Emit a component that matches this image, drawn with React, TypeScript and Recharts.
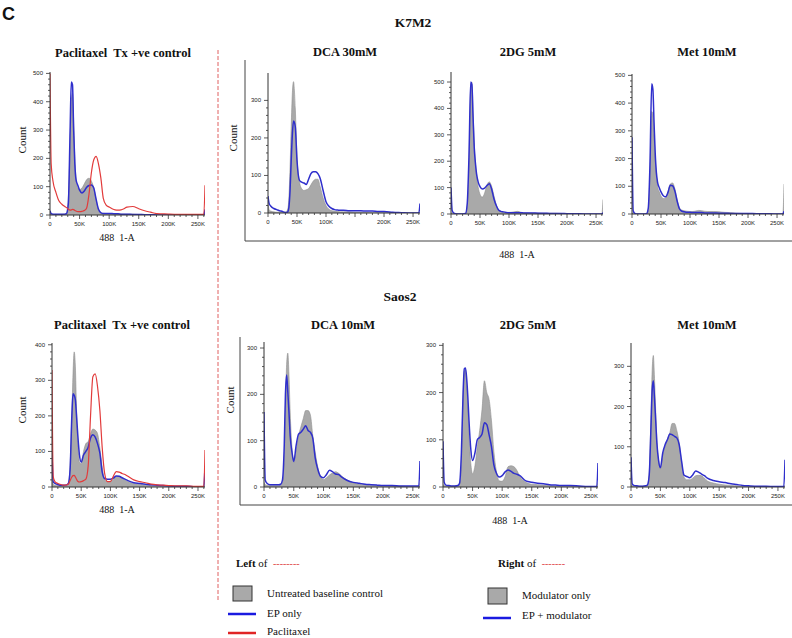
import React from "react";
import { ComposedChart, Area, Line, XAxis, YAxis } from "recharts";

// channel bins, in K (488 1-A)
const BINS = [0, 2, 5, 10, 15, 20, 25, 28, 31, 34, 36, 38, 40, 42, 44, 47, 50, 54, 58, 62, 66, 70, 74, 78, 82, 86, 90, 95, 100, 105, 110, 115, 120, 125, 130, 140, 150, 160, 170, 180, 190, 200, 215, 230, 245, 255, 260, 262];

// K7M2
const k7PacGray = [5, 3, 2, 2, 2, 2, 3, 8, 60, 250, 400, 430, 330, 200, 130, 95, 90, 95, 110, 125, 130, 120, 95, 55, 18, 8, 6, 5, 5, 4, 4, 4, 3, 3, 3, 3, 2, 2, 1, 1, 1, 0, 0, 0, 0, 0, 0, 10];
const k7PacBlue = [15, 5, 3, 3, 3, 3, 3, 5, 40, 300, 470, 460, 300, 180, 125, 105, 88, 78, 85, 98, 104, 106, 95, 55, 20, 8, 5, 5, 5, 5, 4, 4, 3, 3, 3, 2, 2, 1, 1, 0, 0, 0, 0, 0, 0, 0, 0, 20];
const k7PacRed = [500, 180, 120, 80, 50, 38, 30, 26, 20, 17, 18, 20, 19, 16, 14, 12, 12, 13, 16, 25, 75, 150, 195, 207, 180, 130, 60, 35, 28, 22, 18, 17, 18, 22, 28, 30, 22, 15, 10, 5, 4, 3, 2, 2, 2, 2, 2, 105];

const k7DcaGray = [30, 8, 5, 3, 2, 2, 2, 2, 3, 10, 40, 120, 230, 320, 350, 280, 150, 85, 65, 60, 62, 65, 75, 85, 90, 90, 70, 40, 20, 10, 6, 5, 4, 3, 3, 3, 2, 2, 2, 1, 1, 1, 0, 0, 0, 0, 0, 0];
const k7DcaBlue = [45, 25, 18, 12, 9, 6, 4, 2, 1, 3, 15, 60, 140, 210, 245, 230, 140, 88, 82, 80, 76, 90, 105, 110, 110, 105, 92, 60, 30, 18, 12, 9, 8, 7, 7, 6, 6, 6, 5, 5, 4, 4, 2, 1, 0, 0, 0, 25];

const k7DgGray = [5, 2, 1, 1, 1, 1, 1, 30, 190, 480, 500, 390, 270, 195, 145, 100, 75, 64, 80, 110, 122, 105, 70, 35, 15, 10, 8, 6, 6, 7, 9, 10, 7, 5, 5, 4, 4, 3, 3, 3, 2, 1, 1, 0, 0, 0, 0, 55];
const k7DgBlue = [100, 13, 3, 0, 0, 0, 2, 40, 220, 500, 490, 370, 255, 195, 153, 120, 104, 95, 98, 108, 115, 95, 58, 32, 15, 10, 8, 6, 5, 5, 5, 5, 5, 4, 4, 4, 3, 3, 2, 2, 2, 1, 1, 0, 0, 0, 0, 5];

const k7MetGray = [5, 1, 0, 0, 0, 0, 1, 15, 150, 370, 360, 280, 200, 140, 100, 80, 65, 56, 58, 80, 108, 112, 90, 50, 22, 14, 12, 10, 9, 9, 11, 13, 12, 10, 9, 9, 8, 6, 5, 3, 2, 2, 1, 1, 0, 0, 0, 108];
const k7MetBlue = [277, 12, 2, 0, 0, 0, 1, 20, 180, 470, 450, 330, 220, 150, 115, 95, 80, 66, 62, 78, 104, 102, 82, 45, 18, 10, 8, 6, 6, 5, 5, 5, 5, 4, 4, 4, 3, 3, 2, 2, 2, 2, 1, 1, 0, 0, 0, 10];

// Saos2
const saPacGray = [20, 8, 5, 4, 3, 3, 4, 10, 60, 200, 320, 380, 340, 220, 130, 70, 65, 100, 122, 128, 150, 163, 160, 150, 110, 55, 22, 15, 16, 22, 30, 30, 25, 20, 15, 10, 8, 5, 4, 3, 2, 2, 1, 1, 1, 1, 1, 20];
const saPacBlue = [100, 15, 10, 7, 5, 5, 6, 10, 50, 200, 262, 258, 245, 200, 150, 90, 70, 90, 100, 112, 138, 147, 140, 122, 95, 42, 24, 22, 22, 25, 31, 30, 26, 22, 18, 12, 10, 8, 6, 5, 4, 3, 2, 2, 1, 1, 1, 60];
const saPacRed = [329, 30, 15, 10, 7, 5, 6, 8, 18, 28, 32, 33, 28, 22, 16, 14, 15, 18, 22, 60, 200, 310, 318, 282, 215, 110, 40, 15, 15, 30, 43, 42, 38, 35, 30, 20, 15, 12, 8, 6, 5, 4, 3, 3, 2, 2, 2, 104];

const saDcaGray = [10, 5, 4, 3, 3, 3, 3, 4, 10, 60, 170, 265, 289, 240, 160, 85, 52, 80, 110, 130, 148, 165, 165, 155, 110, 75, 45, 22, 16, 20, 26, 30, 33, 30, 24, 15, 9, 6, 5, 4, 3, 3, 2, 2, 1, 1, 1, 10];
const saDcaBlue = [162, 15, 8, 5, 5, 5, 5, 6, 15, 90, 200, 242, 205, 160, 110, 75, 55, 90, 114, 118, 125, 132, 122, 118, 105, 63, 40, 23, 20, 27, 36, 33, 28, 27, 22, 14, 10, 8, 6, 5, 4, 3, 3, 2, 2, 2, 2, 56];

const saDgGray = [5, 3, 2, 2, 2, 2, 3, 6, 50, 190, 245, 248, 220, 170, 110, 50, 28, 45, 85, 120, 165, 225, 200, 185, 140, 75, 35, 13, 12, 22, 43, 45, 43, 35, 22, 10, 6, 5, 4, 3, 2, 2, 1, 1, 1, 1, 1, 10];
const saDgBlue = [97, 10, 4, 3, 2, 2, 3, 8, 70, 200, 250, 252, 230, 190, 139, 80, 56, 72, 100, 105, 112, 136, 132, 110, 85, 47, 30, 21, 24, 32, 36, 33, 29, 27, 24, 13, 10, 8, 7, 5, 4, 3, 3, 2, 1, 1, 1, 51];

const saMetGray = [5, 3, 2, 2, 2, 2, 3, 5, 35, 180, 290, 327, 270, 190, 120, 65, 45, 80, 100, 118, 135, 158, 158, 140, 110, 60, 25, 18, 18, 22, 28, 29, 28, 22, 15, 10, 7, 5, 4, 3, 2, 2, 1, 1, 1, 1, 1, 5];
const saMetBlue = [74, 8, 4, 3, 2, 2, 3, 5, 30, 150, 240, 264, 220, 166, 110, 65, 48, 85, 105, 118, 132, 130, 126, 122, 105, 65, 30, 26, 23, 30, 40, 37, 32, 28, 22, 16, 13, 11, 8, 6, 4, 3, 2, 2, 1, 1, 1, 68];

const Y500 = [0, 100, 200, 300, 400, 500];
const Y400 = [0, 100, 200, 300, 400];
const Y300 = [0, 100, 200, 300];

const GRAY = "#a9a9a9";
const GRAY_EDGE = "#8e8e8e";
const BLUE = "#2f2fcc";
const RED = "#e23b3b";
const FRAME = "#333";
const SERIF = "'Liberation Serif', 'DejaVu Serif', serif";
const SANS = "'Liberation Sans', Arial, sans-serif";

const YW = 30;
const XH = 22;

function XTick(props: any) {
  const { x, y, payload, skip } = props;
  const v = payload.value;
  const major = v % 50 === 0;
  const show = major && !(skip && v === 150);
  return (
    <g>
      <line x1={x} x2={x} y1={y} y2={y + (major ? 4 : 2)} stroke={FRAME} strokeWidth={0.8} />
      {show && (
        <text x={x} y={y + 11} textAnchor="middle" fontSize={6} fontFamily={SANS} fill="#222">
          {v === 0 ? "0" : `${v}K`}
        </text>
      )}
    </g>
  );
}

function YTick(props: any) {
  const { x, y, payload } = props;
  const v = payload.value;
  const major = v % 100 === 0;
  return (
    <g>
      <line x1={x} x2={x - (major ? 4 : 2)} y1={y} y2={y} stroke={FRAME} strokeWidth={0.8} />
      {major && (
        <text x={x - 7} y={y + 2} textAnchor="end" fontSize={6} fontFamily={SANS} fill="#222">
          {v}
        </text>
      )}
    </g>
  );
}

type HistoProps = {
  x: number;
  y: number;
  w: number;
  h: number;
  yMax: number;
  yTicks: number[];
  gray: number[];
  blue: number[];
  red?: number[];
  skip150?: boolean;
};

function Histo({ x, y, w, h, yMax, yTicks, gray, blue, red, skip150 }: HistoProps) {
  const data = BINS.map((b, i) => ({
    b,
    gray: gray[i],
    blue: blue[i],
    red: red ? red[i] : null,
  }));
  const xTicks: number[] = [];
  for (let v = 0; v <= 260; v += 10) xTicks.push(v);
  const top = yTicks[yTicks.length - 1];
  const yMinor: number[] = [];
  for (let v = 0; v <= top; v += 20) yMinor.push(v);
  return (
    <div style={{ position: "absolute", left: x - YW, top: y - 2 }}>
      <ComposedChart
        width={w + YW + 2}
        height={h + XH + 2}
        data={data}
        margin={{ top: 2, right: 2, bottom: 0, left: 0 }}
      >
        <XAxis
          xAxisId="b"
          dataKey="b"
          type="number"
          domain={[0, 262]}
          ticks={xTicks}
          interval={0}
          height={XH}
          tickLine={false}
          tickSize={0}
          tickMargin={0}
          axisLine={{ stroke: FRAME }}
          tick={(p: any) => <XTick {...p} skip={skip150} />}
          allowDataOverflow
        />
        <XAxis
          xAxisId="t"
          dataKey="b"
          type="number"
          orientation="top"
          domain={[0, 262]}
          height={0}
          tick={false}
          tickLine={false}
          axisLine={{ stroke: FRAME }}
          allowDataOverflow
        />
        <YAxis
          yAxisId="l"
          type="number"
          domain={[0, yMax]}
          ticks={yMinor}
          interval={0}
          width={YW}
          tickLine={false}
          tickSize={0}
          tickMargin={0}
          axisLine={{ stroke: FRAME }}
          tick={(p: any) => <YTick {...p} />}
          allowDataOverflow
        />
        <YAxis
          yAxisId="r"
          type="number"
          orientation="right"
          domain={[0, yMax]}
          width={0}
          tick={false}
          tickLine={false}
          axisLine={{ stroke: FRAME }}
          allowDataOverflow
        />
        <Area
          xAxisId="b"
          yAxisId="l"
          dataKey="gray"
          type="monotone"
          fill={GRAY}
          fillOpacity={1}
          stroke={GRAY_EDGE}
          strokeWidth={0.6}
          isAnimationActive={false}
        />
        <Line
          xAxisId="b"
          yAxisId="l"
          dataKey="blue"
          type="monotone"
          stroke={BLUE}
          strokeWidth={1.5}
          dot={false}
          isAnimationActive={false}
        />
        {red && (
          <Line
            xAxisId="b"
            yAxisId="l"
            dataKey="red"
            type="monotone"
            stroke={RED}
            strokeWidth={1.2}
            dot={false}
            isAnimationActive={false}
          />
        )}
      </ComposedChart>
    </div>
  );
}

function Txt({
  x,
  y,
  children,
  size = 11,
  bold = false,
  rotate = false,
  family = SERIF,
  anchor = "middle",
}: any) {
  const tx = anchor === "middle" ? "-50%" : "0";
  return (
    <div
      style={{
        position: "absolute",
        left: x,
        top: y,
        transform: `translate(${tx}, -50%)${rotate ? " rotate(-90deg)" : ""}`,
        fontFamily: family,
        fontSize: size,
        fontWeight: bold ? 700 : 400,
        whiteSpace: "pre",
        color: "#111",
        lineHeight: 1,
      }}
    >
      {children}
    </div>
  );
}

const dash = { color: "#e04848", fontSize: 10 };

export default function App() {
  return (
    <div
      style={{
        position: "absolute",
        left: 0,
        top: 0,
        width: 792,
        height: 638,
        background: "#fff",
        overflow: "hidden",
      }}
    >
      <svg width={792} height={638} style={{ position: "absolute", left: 0, top: 0 }}>
        {/* separator */}
        <line x1={218} x2={218} y1={50} y2={600} stroke="#e06060" strokeWidth={1} strokeDasharray="4 2" />
        {/* group frames */}
        <polyline points="245,60 245,241 792,241" fill="none" stroke="#444" strokeWidth={1} />
        <polyline points="240,337 240,505 792,505" fill="none" stroke="#444" strokeWidth={1} />
        {/* legend swatches */}
        <rect x={233} y={586} width={19} height={15} fill={GRAY} stroke="#333" strokeWidth={1} />
        <line x1={228} x2={256} y1={614} y2={614} stroke="#1a1ae0" strokeWidth={2.5} />
        <line x1={228} x2={256} y1={633} y2={633} stroke="#e02424" strokeWidth={2.5} />
        <rect x={488} y={588} width={19} height={16} fill={GRAY} stroke="#333" strokeWidth={1} />
        <line x1={483} x2={511} y1={618} y2={618} stroke="#1a1ae0" strokeWidth={2.5} />
      </svg>

      <Txt x={2} y={14} size={18} bold family={SANS} anchor="start">C</Txt>
      <Txt x={413} y={23} size={13.5} bold>K7M2</Txt>
      <Txt x={400} y={297} size={13.5} bold>Saos2</Txt>

      {/* K7M2 row */}
      <Txt x={123} y={53} size={12.5} bold>Paclitaxel  Tx +ve control</Txt>
      <Txt x={345} y={52} size={12.5} bold>DCA 30mM</Txt>
      <Txt x={528} y={52} size={12.5} bold>2DG 5mM</Txt>
      <Txt x={707} y={52} size={12.5} bold>Met 10mM</Txt>
      <Histo x={50} y={72} w={155} h={143} yMax={505} yTicks={Y500} gray={k7PacGray} blue={k7PacBlue} red={k7PacRed} />
      <Histo x={268} y={73} w={152} h={140} yMax={373} yTicks={Y300} gray={k7DcaGray} blue={k7DcaBlue} skip150 />
      <Histo x={451} y={72} w={152} h={142} yMax={538} yTicks={Y500} gray={k7DgGray} blue={k7DgBlue} />
      <Histo x={632} y={74} w={152} h={140} yMax={505} yTicks={Y500} gray={k7MetGray} blue={k7MetBlue} />
      <Txt x={22} y={140} rotate>Count</Txt>
      <Txt x={233} y={138} rotate>Count</Txt>
      <Txt x={117} y={238} size={10}>488  1-A</Txt>
      <Txt x={517} y={255} size={10}>488  1-A</Txt>

      {/* Saos2 row */}
      <Txt x={122} y={325} size={12.5} bold>Paclitaxel  Tx +ve control</Txt>
      <Txt x={343} y={325} size={12.5} bold>DCA 10mM</Txt>
      <Txt x={528} y={325} size={12.5} bold>2DG 5mM</Txt>
      <Txt x={707} y={325} size={12.5} bold>Met 10mM</Txt>
      <Histo x={52} y={343} w={153} h={144} yMax={405} yTicks={Y400} gray={saPacGray} blue={saPacBlue} red={saPacRed} />
      <Histo x={264} y={342} w={156} h={145} yMax={313} yTicks={Y300} gray={saDcaGray} blue={saDcaBlue} />
      <Histo x={443} y={343} w={155} h={144} yMax={305} yTicks={Y300} gray={saDgGray} blue={saDgBlue} />
      <Histo x={631} y={343} w={154} h={144} yMax={358} yTicks={Y300} gray={saMetGray} blue={saMetBlue} />
      <Txt x={22} y={410} rotate>Count</Txt>
      <Txt x={230} y={400} rotate>Count</Txt>
      <Txt x={117} y={510} size={10}>488  1-A</Txt>
      <Txt x={510} y={521} size={10}>488  1-A</Txt>

      {/* legend */}
      <Txt x={236} y={563} anchor="start"><b>Left</b> of  <span style={dash}>--------</span></Txt>
      <Txt x={267} y={593} anchor="start">Untreated baseline control</Txt>
      <Txt x={267} y={613} anchor="start">EP only</Txt>
      <Txt x={267} y={631} anchor="start">Paclitaxel</Txt>
      <Txt x={498} y={563} anchor="start"><b>Right</b> of  <span style={dash}>-------</span></Txt>
      <Txt x={522} y={595} anchor="start">Modulator only</Txt>
      <Txt x={522} y={615} anchor="start">EP + modulator</Txt>
    </div>
  );
}
